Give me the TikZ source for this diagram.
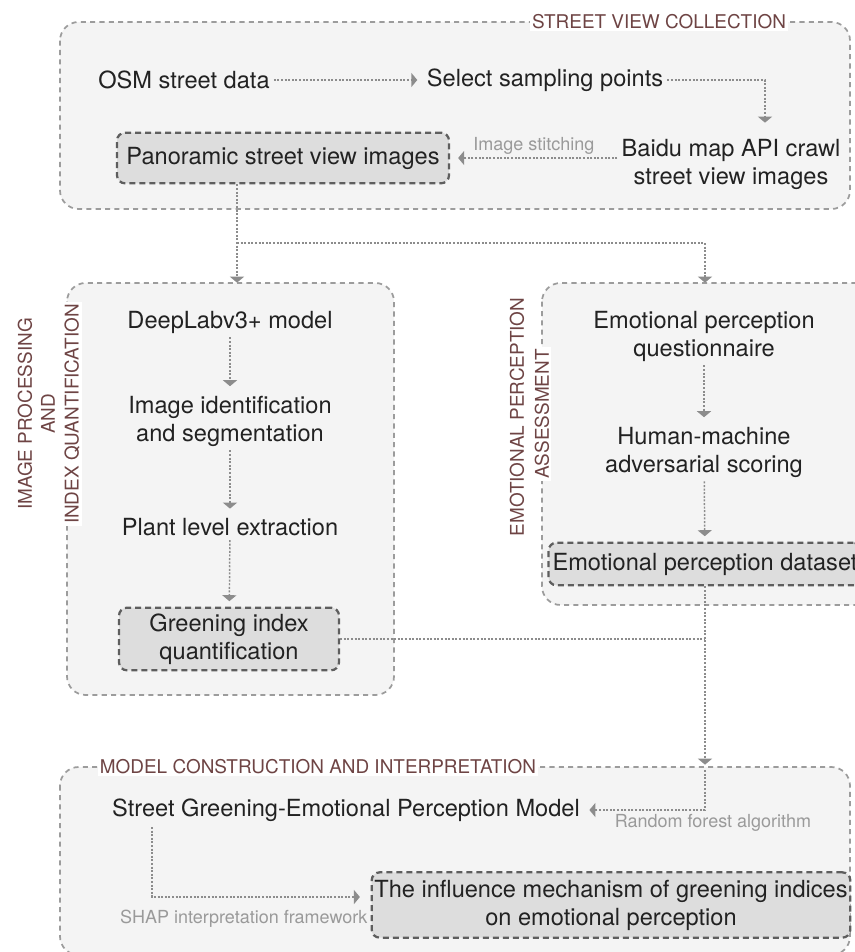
\documentclass[tikz,border=0pt]{standalone}
\usepackage{fontspec}
\setmainfont{TeX Gyre Heros}
\usepackage{tikz}
\usetikzlibrary{arrows.meta}
\definecolor{boxfill}{HTML}{F4F4F4}
\definecolor{groupline}{HTML}{9C9C9C}
\definecolor{keyfill}{HTML}{DDDDDD}
\definecolor{keyline}{HTML}{5E5E5E}
\definecolor{flowline}{HTML}{8C8C8C}
\definecolor{titlecol}{HTML}{6E4444}
\definecolor{textcol}{HTML}{222222}
\definecolor{notecol}{HTML}{9A9A9A}
% the four stage frames, in pixel coordinates
\def\collectbox{(60,22) rectangle (850,209)}
\def\processbox{(67,283) rectangle (394,695)}
\def\assessbox{(542,283) rectangle (884,605)}
\def\modelbox{(60,767) rectangle (850,955)}

\begin{document}
\begin{tikzpicture}[x=0.75pt,y=-0.75pt,
	group/.style={draw=groupline, fill=boxfill, line width=1.3pt, dash pattern=on 3.8pt off 3.2pt, rounded corners=14pt},
	heading/.style={text=titlecol, font=\fontsize{14.2}{17.3}\selectfont, inner sep=1.5pt},
	stage/.style={text=textcol, font=\fontsize{17.7}{21}\selectfont, align=center, inner sep=3pt},
	keybox/.style={stage, draw=keyline, fill=keyfill, line width=1.7pt, dash pattern=on 4.5pt off 3pt, rounded corners=6pt},
	link/.style={draw=flowline, line width=1.1pt, dash pattern=on 1.5pt off 1.2pt},
	flow/.style={link, shorten >=4pt, -{Triangle[width=10.5pt,length=4.5pt]}},
	note/.style={text=notecol, font=\fontsize{13.5}{16}\selectfont, inner sep=2pt}]
\useasboundingbox (0,0) rectangle (854,952);
\draw[group] \collectbox \processbox \assessbox \modelbox;

% frame titles
\node[heading, fill=white] (collecttitle) at (659,22) {STREET VIEW COLLECTION};
\node[heading, rotate=90] (processtitle) at (25,414) {IMAGE PROCESSING};
\node[heading, rotate=90] (processand) at (48,414) {AND};
\node[heading, rotate=90, fill=white] (processindex) at (72,414) {INDEX QUANTIFICATION};
\node[heading, rotate=90] (assesstitle) at (517,417) {EMOTIONAL PERCEPTION};
\node[heading, rotate=90, fill=white] (assessnext) at (542,414) {ASSESSMENT};
\node[heading, fill=white] (modeltitle) at (318,767) {MODEL CONSTRUCTION AND INTERPRETATION};

% street view collection
\node[stage] (osm) at (184,80) {OSM street data};
\node[stage] (select) at (545,80) {Select sampling points};
\node[stage] (baidu) at (731,164) {Baidu map API crawl\\street view images};
\node[keybox, minimum width=249pt, minimum height=38pt] (pano) at (283,158) {Panoramic street view images};
\coordinate (crawlin) at (765,128);
\draw[flow] (osm) -- (select);
\draw[flow] (select) -| (crawlin);
\draw[flow, shorten >=6pt] (baidu.west |- pano.east) -- node[note, above]{Image stitching} (pano.east);

% image processing
\node[stage] (deeplab) at (230,322) {DeepLabv3+ model};
\node[stage] (ident) at (230,421) {Image identification\\and segmentation};
\node[stage] (plant) at (230,527) {Plant level extraction};
\node[keybox, minimum width=165pt, minimum height=47pt] (greening) at (229,639) {Greening index\\quantification};
\draw[flow] (deeplab) -- (ident);
\draw[flow] (ident) -- (plant);
\draw[flow] (plant) -- (greening);

% emotional perception
\node[stage] (quest) at (704,336) {Emotional perception\\questionnaire};
\node[stage] (scoring) at (704,452) {Human-machine\\adversarial scoring};
\node[keybox, inner xsep=3pt, minimum height=32pt] (dataset) at (705,564) {Emotional perception dataset};
\draw[flow] (quest) -- (scoring);
\draw[flow] (scoring) -- (dataset);

% split towards the two middle frames
\coordinate (split) at (237,243);
\coordinate (procin) at (237,288);
\coordinate (emoin) at (705,288);
\draw[flow] (pano.south -| split) -- (procin);
\draw[flow] (split) -| (emoin);

% model construction
\node[stage] (model) at (346,810) {Street Greening-Emotional Perception Model};
\node[keybox, inner xsep=2pt, minimum height=49pt] (influence) at (611,905) {The influence mechanism of greening indices\\on emotional perception};
\coordinate (modelin) at (705,770);
\coordinate (shapout) at (152,827);
\draw[link] (greening.east) -- (greening.east -| dataset.south);
\draw[flow] (dataset.south) -- (modelin);
\draw[flow] (modelin) |- node[note, pos=0.5, anchor=north, xshift=6pt, yshift=-1pt]{Random forest algorithm} (model);
\draw[flow, shorten >=8pt] (shapout) |- node[note, pos=0.71, below, yshift=-7pt]{SHAP interpretation framework} ([yshift=6pt]influence.west);
\end{tikzpicture}
\end{document}
